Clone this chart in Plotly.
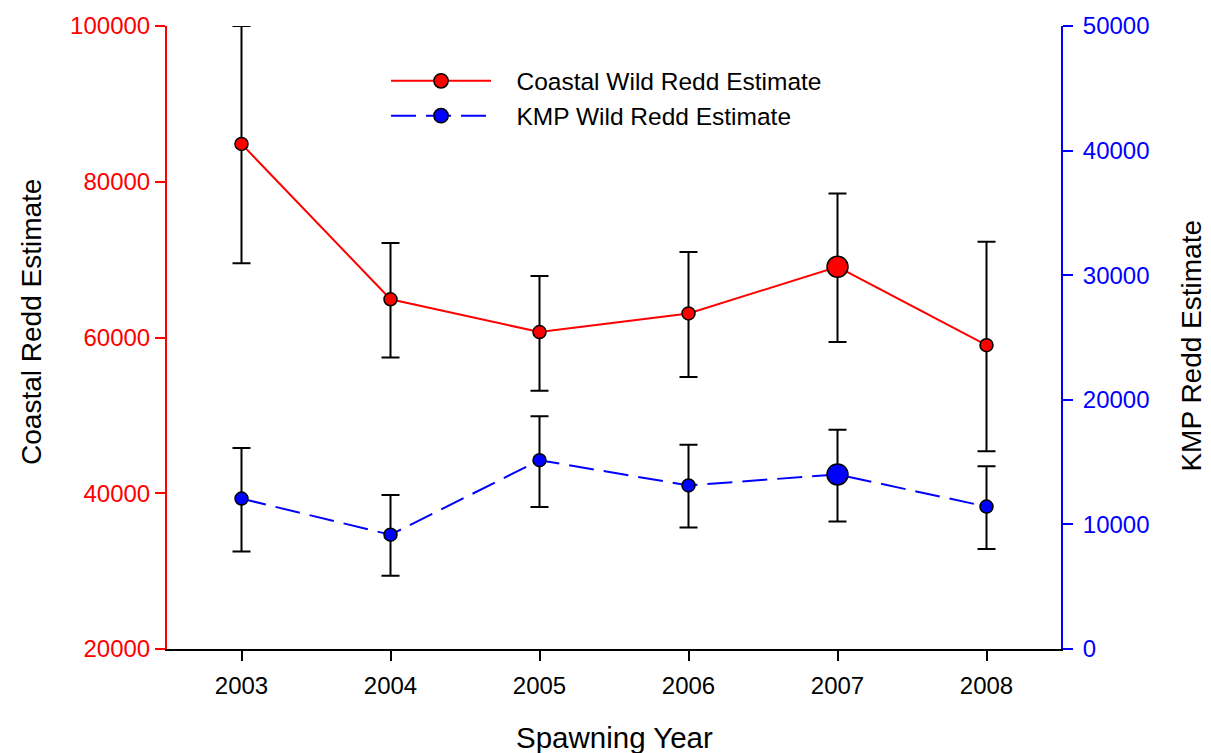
import plotly.graph_objects as go

years = [2003, 2004, 2005, 2006, 2007, 2008]

coastal = [84860, 64910, 60700, 63090, 69080, 59010]
coastal_upper = [100000, 72150, 67890, 70970, 78480, 72310]
coastal_lower = [69540, 57430, 53170, 54920, 59430, 45390]

kmp = [12070, 9170, 15150, 13130, 14010, 11430]
kmp_upper = [16130, 12360, 18680, 16400, 17600, 14670]
kmp_lower = [7820, 5880, 11400, 9750, 10230, 8030]

marker_sizes = [13, 13, 13, 13, 21, 13]

FONT = "Liberation Sans, Arial, sans-serif"
PAD = "\u00a0\u00a0\u00a0"

fig = go.Figure()

fig.add_trace(go.Scatter(
    x=years, y=coastal, name=PAD + "Coastal Wild Redd Estimate",
    mode="lines+markers",
    line=dict(color="#ff0000", width=2),
    marker=dict(color="#ff0000", size=marker_sizes, opacity=1,
                line=dict(color="black", width=1.5)),
    error_y=dict(type="data", symmetric=False,
                 array=[u - v for u, v in zip(coastal_upper, coastal)],
                 arrayminus=[v - l for v, l in zip(coastal, coastal_lower)],
                 color="black", thickness=2, width=9),
    yaxis="y",
))

fig.add_trace(go.Scatter(
    x=years, y=kmp, name=PAD + "KMP Wild Redd Estimate",
    mode="lines+markers",
    line=dict(color="#0000ff", width=2, dash="25px,10px"),
    marker=dict(color="#0000ff", size=marker_sizes, opacity=1,
                line=dict(color="black", width=1.5)),
    error_y=dict(type="data", symmetric=False,
                 array=[u - v for u, v in zip(kmp_upper, kmp)],
                 arrayminus=[v - l for v, l in zip(kmp, kmp_lower)],
                 color="black", thickness=2, width=9),
    yaxis="y2",
))

fig.update_layout(
    width=1211, height=753,
    margin=dict(l=167, r=150, t=22, b=104),
    paper_bgcolor="white", plot_bgcolor="white",
    font=dict(family=FONT, size=24, color="black"),
    showlegend=True,
    legend=dict(x=0.245, y=0.948, xanchor="left", yanchor="top",
                bgcolor="rgba(0,0,0,0)", font=dict(size=24.5, color="black"),
                itemwidth=100, tracegroupgap=0),
    xaxis=dict(range=[2002.5, 2008.5], tickvals=years, ticktext=[str(y) for y in years],
               showline=True, linecolor="black", linewidth=2,
               ticks="outside", ticklen=10, tickwidth=2, tickcolor="black",
               showgrid=False, zeroline=False, ticklabelstandoff=4,
               tickfont=dict(size=24, color="black")),
    yaxis=dict(range=[20000, 100000], dtick=20000, tick0=20000,
               showline=True, linecolor="#ff0000", linewidth=2,
               ticks="outside", ticklen=10, tickwidth=2, tickcolor="#ff0000",
               showgrid=False, zeroline=False,
               tickformat="d",
               tickfont=dict(size=24, color="#ff0000")),
    yaxis2=dict(range=[0, 50000], dtick=10000, tick0=0, overlaying="y", side="right",
                showline=True, linecolor="#0000ff", linewidth=2,
                ticks="outside", ticklen=10, tickwidth=2, tickcolor="#0000ff",
                showgrid=False, zeroline=False, tickformat="d", ticklabelstandoff=5,
                tickfont=dict(size=24, color="#0000ff")),
    annotations=[
        dict(text="Coastal Redd Estimate", xref="paper", yref="paper",
             x=-0.151, y=0.525, xanchor="center", yanchor="middle", textangle=-90,
             showarrow=False, font=dict(size=28, color="black")),
        dict(text="KMP Redd Estimate", xref="paper", yref="paper",
             x=1.1465, y=0.487, xanchor="center", yanchor="middle", textangle=-90,
             showarrow=False, font=dict(size=28, color="black")),
        dict(text="Spawning Year", xref="paper", yref="paper",
             x=0.5, y=-0.142, xanchor="center", yanchor="middle",
             showarrow=False, font=dict(size=29.5, color="black")),
    ],
)

fig.write_html("out.html")
